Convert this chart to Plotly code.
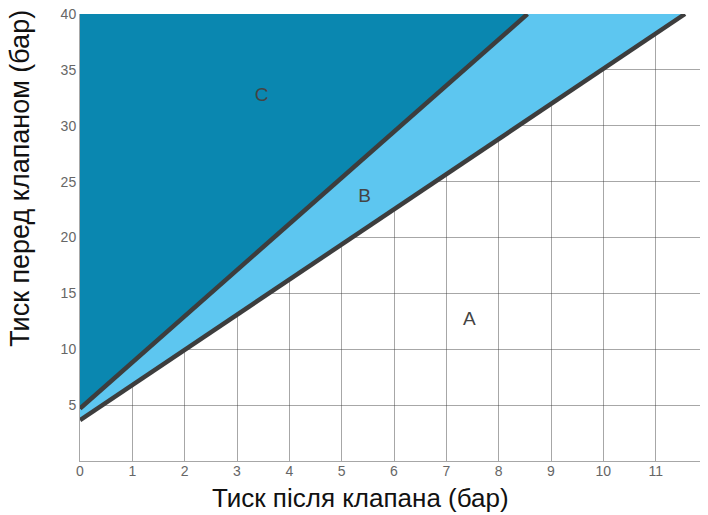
import plotly.graph_objects as go

# Boundary lines (x = pressure after valve, y = pressure before valve)
upper_x = [0, 8.55]
upper_y = [4.7, 40]
lower_x = [0, 11.56]
lower_y = [3.66, 40]

region_labels = ["C", "B", "A"]
label_x = [3.47, 5.44, 7.44]
label_y = [32.6, 23.6, 12.6]

x_ticks = list(range(0, 13))
y_ticks = [5, 10, 15, 20, 25, 30, 35, 40]

x_title = "Тиск після клапана (бар)"
y_title = "Тиск перед клапаном (бар)"

fig = go.Figure()

# Region C (above upper line)
fig.add_trace(go.Scatter(
    x=[upper_x[0], upper_x[1], upper_x[0]],
    y=[upper_y[0], upper_y[1], upper_y[1]],
    fill="toself", fillcolor="#0a87b0", mode="none", hoverinfo="skip"))
# Region B (between lines)
fig.add_trace(go.Scatter(
    x=[upper_x[0], upper_x[1], lower_x[1], lower_x[0]],
    y=[upper_y[0], upper_y[1], lower_y[1], lower_y[0]],
    fill="toself", fillcolor="#5dc6f0", mode="none", hoverinfo="skip"))

for xs, ys in [(upper_x, upper_y), (lower_x, lower_y)]:
    fig.add_trace(go.Scatter(x=xs, y=ys, mode="lines",
                             line=dict(color="#3d3d3d", width=4.5),
                             hoverinfo="skip"))

fig.add_trace(go.Scatter(x=label_x, y=label_y, mode="text", text=region_labels,
                         textfont=dict(family="Liberation Sans, Arial", size=19, color="#444"),
                         hoverinfo="skip"))

fig.update_layout(
    width=700, height=507,
    margin=dict(l=72, r=0, t=6, b=54),
    paper_bgcolor="white", plot_bgcolor="white",
    showlegend=False,
    font=dict(family="Liberation Sans, Arial", color="#111"),
)
grid = "rgba(60,60,60,0.45)"
fig.update_xaxes(
    range=[0, 12], tickvals=x_ticks, ticktext=[str(v) for v in x_ticks],
    showgrid=True, gridcolor=grid, gridwidth=1,
    zeroline=False, showline=True, linecolor=grid, linewidth=1, ticks="",
    tickfont=dict(size=14, color="#666"), ticklabeloverflow="allow",
    ticklabelstandoff=-3,
    layer="above traces", automargin=False,
)
fig.update_yaxes(
    range=[0, 40], tickvals=y_ticks,
    showgrid=True, gridcolor=grid, gridwidth=1,
    zeroline=False, showline=True, linecolor=grid, linewidth=1, ticks="",
    tickfont=dict(size=14, color="#666"), ticklabeloverflow="allow",
    layer="above traces", automargin=False,
)
fig.add_annotation(text=x_title, xref="paper", yref="paper", x=0.446, y=-0.083,
                   xanchor="center", yanchor="middle", showarrow=False,
                   font=dict(size=26, color="#111"))
fig.add_annotation(text=y_title, xref="paper", yref="paper", x=-0.096, y=0.633,
                   xanchor="center", yanchor="middle", showarrow=False, textangle=-90,
                   font=dict(size=27, color="#111"))

fig.write_html("out.html")
